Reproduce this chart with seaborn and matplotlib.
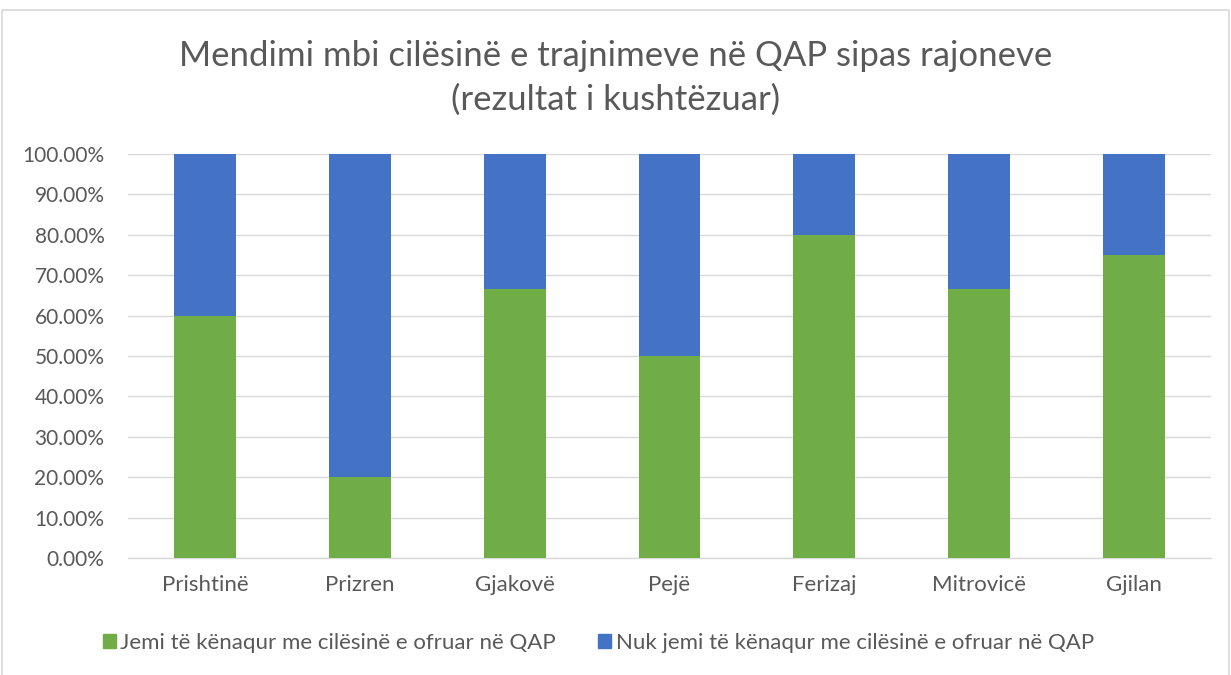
import matplotlib
matplotlib.use("Agg")
import matplotlib.pyplot as plt
import seaborn as sns
import pandas as pd
import numpy as np
from matplotlib.patches import Rectangle, Patch
from matplotlib.ticker import FuncFormatter

regions = ["Prishtinë", "Prizren", "Gjakovë", "Pejë", "Ferizaj", "Mitrovicë", "Gjilan"]
satisfied = [60.0, 20.0, 66.67, 50.0, 80.0, 66.67, 75.0]
not_satisfied = [40.0, 80.0, 33.33, 50.0, 20.0, 33.33, 25.0]
series_names = ["Jemi të kënaqur me cilësinë e ofruar në QAP",
                "Nuk jemi të kënaqur me cilësinë e ofruar në QAP"]
title = "Mendimi mbi cilësinë e trajnimeve në QAP sipas rajoneve\n(rezultat i kushtëzuar)"

GREEN = "#70ad47"
BLUE = "#4472c4"
TEXT = "#595959"
GRID = "#d9d9d9"

sns.set_theme(style="white")
plt.rcParams["font.family"] = ["Lato", "DejaVu Sans"]

df = pd.DataFrame({"region": regions, "satisfied": satisfied,
                   "not_satisfied": not_satisfied})
df["total"] = df["satisfied"] + df["not_satisfied"]

fig = plt.figure(figsize=(12.31, 6.75), dpi=100)
ax = fig.add_axes([0.104, 0.1733, 0.8798, 0.5986])

# stacked: total (blue) underneath, satisfied share (green) drawn over it
sns.barplot(data=df, x="region", y="total", color=BLUE, width=0.4,
            saturation=1, linewidth=0, ax=ax, zorder=2)
sns.barplot(data=df, x="region", y="satisfied", color=GREEN, width=0.4,
            saturation=1, linewidth=0, ax=ax, zorder=3)

ax.set_xlim(-0.5, len(regions) - 0.5)
ax.set_ylim(0, 100)
ax.set_yticks(np.arange(0, 101, 10))
ax.yaxis.set_major_formatter(FuncFormatter(lambda v, p: f"{v:.2f}%"))
ax.grid(axis="y", color=GRID, linewidth=1, zorder=0)
ax.set_axisbelow(True)
for s in ["top", "left", "right"]:
    ax.spines[s].set_visible(False)
ax.spines["bottom"].set_color(GRID)
ax.spines["bottom"].set_linewidth(1)
ax.set_xlabel("")
ax.set_ylabel("")
ax.tick_params(axis="y", length=0, labelsize=15, colors=TEXT, pad=17)
ax.tick_params(axis="x", length=0, labelsize=16, colors=TEXT, pad=12)

fig.text(0.5, 0.884, title, ha="center", va="center", fontsize=25,
         color=TEXT, linespacing=1.45)

handles = [Patch(color=GREEN), Patch(color=BLUE)]
fig.legend(handles, series_names, loc="center", bbox_to_anchor=(0.486, 0.047),
           ncol=2, frameon=False, fontsize=16, labelcolor=TEXT,
           handlelength=0.6, handleheight=0.6, handletextpad=0.2,
           columnspacing=1.9)

fig.patches.append(Rectangle((0.002, -0.01), 0.996, 0.995, transform=fig.transFigure,
                             fill=False, edgecolor=GRID, linewidth=1.2))

fig.savefig("out.png", dpi=100, facecolor="white")
